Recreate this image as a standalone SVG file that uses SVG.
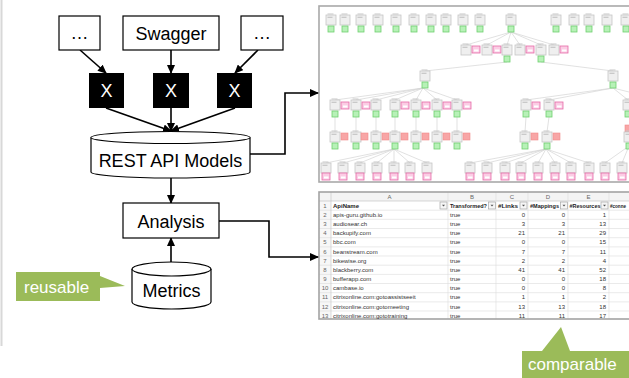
<svg xmlns="http://www.w3.org/2000/svg" width="629" height="378" viewBox="0 0 629 378">
<style>
.lbl{font-family:"Liberation Sans",Arial,sans-serif;font-size:18px;fill:#000;text-anchor:middle}
.wx{font-family:"Liberation Sans",Arial,sans-serif;font-size:18px;fill:#fff;text-anchor:middle}
.co{font-family:"Liberation Sans",Arial,sans-serif;font-size:17px;fill:#fff}
.box{fill:#fff;stroke:#000;stroke-width:1.2}
.xb{fill:#000}
.con{fill:none;stroke:#000;stroke-width:1.6}
.edge{stroke:#d4d4d4;stroke-width:0.7;fill:none}
.st{font-family:"Liberation Sans",Arial,sans-serif;font-size:6px;fill:#333}
.sh{font-family:"Liberation Sans",Arial,sans-serif;font-size:6px;fill:#222;font-weight:bold}
.sn{font-family:"Liberation Sans",Arial,sans-serif;font-size:6px;fill:#666;text-anchor:middle}
.sv{font-family:"Liberation Sans",Arial,sans-serif;font-size:6px;fill:#333;text-anchor:end}
.grid{stroke:#dcdcdc;stroke-width:0.6}
</style>
<defs>
<marker id="ah" markerUnits="userSpaceOnUse" markerWidth="9" markerHeight="8" refX="8" refY="4" orient="auto">
<path d="M0,0 L9,4 L0,8 Z" fill="#000"/>
</marker>
<g id="gb"><rect width="10" height="10" fill="#efefef" stroke="#c6c6c6" stroke-width="0.8"/><rect x="1.5" y="-1.5" width="6" height="1" fill="#c8c8c8"/><rect x="1.5" y="1.8" width="5" height="0.8" fill="#b0b0b0"/></g>
<g id="gr"><rect width="6" height="6" fill="#b7f1b7" stroke="#6fcf6f" stroke-width="0.8"/></g>
<g id="pk"><rect width="8" height="7" fill="#fbcde4" stroke="#e56aa7" stroke-width="0.8"/><rect x="2" y="3.5" width="4.5" height="2" fill="#fff"/></g>
<g id="sa"><rect width="7" height="7" fill="#f8a6a6" stroke="#f08a8a" stroke-width="0.6"/></g>
<g id="dd"><rect width="7" height="7" fill="#f6f6f6" stroke="#9c9c9c" stroke-width="0.6"/><path d="M2,2.8 L5,2.8 L3.5,4.6 Z" fill="#555"/></g>
</defs>

<rect width="629" height="378" fill="#fff"/>
<line x1="1.5" y1="0" x2="1.5" y2="346" stroke="#d8d8d8" stroke-width="2"/>

<!-- tree screenshot -->
<g id="tree-image">
<rect x="319" y="6" width="312" height="176" fill="#fff" stroke="#a9a9a9" stroke-width="1.6"/>
<g class="edge">
<path d="M511,32 L466,45 M511,32 L487,45 M511,32 L507,45 M511,32 L520,45 M511,32 L541,45 M511,32 L554,45"/>
<path d="M507,62 L425,71 M541,62 L613,71"/>
<path d="M423,88 L335,100 M423,88 L356,100 M423,88 L376,100 M423,88 L395,100 M423,88 L416,100 M423,88 L437,100 M423,88 L457,100"/>
<path d="M613,88 L526,100 M613,88 L549,100 M613,88 L628,100 M613,88 L629,92"/>
<path d="M335,117 V132 M356,117 V132 M376,117 V132 M395,117 V132 M416,117 V132 M437,117 V132 M457,117 V132 M526,117 L525,132 M549,117 L547,132"/>
<path d="M394,149 L326,163 M394,149 L343,163 M394,149 L360,163 M394,149 L377,163 M394,149 L394,163 M394,149 L410,163 M394,149 L427,163"/>
<path d="M546,149 L470,163 M546,149 L487,163 M546,149 L505,163 M546,149 L521,163 M546,149 L538,163 M546,149 L555,163 M546,149 L571,163 M546,149 L589,163"/>
<path d="M629,146 L605,163 M629,146 L622,163"/>
</g>
<!-- row 0 -->
<use href="#gb" x="326" y="15"/><use href="#gr" x="328" y="26"/>
<use href="#gb" x="340" y="15"/><use href="#gr" x="342" y="26"/>
<use href="#gb" x="356" y="15"/><use href="#gr" x="358" y="26"/>
<use href="#gb" x="373" y="15"/><use href="#gr" x="375" y="26"/>
<use href="#gb" x="391" y="15"/><use href="#gr" x="393" y="26"/>
<use href="#gb" x="409" y="15"/><use href="#gr" x="411" y="26"/>
<use href="#gb" x="426" y="15"/><use href="#gr" x="428" y="26"/>
<use href="#gb" x="441" y="15"/><use href="#gr" x="443" y="26"/>
<use href="#gb" x="458" y="15"/><use href="#gr" x="460" y="26"/>
<use href="#gb" x="475" y="15"/><use href="#gr" x="477" y="26"/>
<use href="#gb" x="506" y="15"/><use href="#gr" x="508" y="26"/>
<use href="#gb" x="551" y="15"/><use href="#gr" x="553" y="26"/>
<use href="#gb" x="569" y="15"/><use href="#gr" x="571" y="26"/>
<use href="#gb" x="584" y="15"/><use href="#gr" x="586" y="26"/>
<use href="#gb" x="602" y="15"/><use href="#gr" x="604" y="26"/>
<use href="#gb" x="621" y="15"/><use href="#gr" x="623" y="26"/>
<!-- row 1 -->
<use href="#gb" x="461" y="45"/><use href="#pk" x="472" y="46"/>
<use href="#gb" x="482" y="45"/><use href="#pk" x="493" y="46"/>
<use href="#gb" x="502" y="45"/><use href="#gr" x="504" y="56"/>
<use href="#gb" x="515" y="45"/><use href="#pk" x="526" y="46"/>
<use href="#gb" x="536" y="45"/><use href="#gr" x="538" y="56"/>
<use href="#gb" x="549" y="45"/><use href="#pk" x="560" y="46"/>
<!-- row 2 -->
<use href="#gb" x="420" y="71"/><use href="#gr" x="422" y="82"/>
<use href="#gb" x="608" y="71"/><use href="#gr" x="610" y="82"/>
<!-- row 3 -->
<use href="#gb" x="330" y="100"/><use href="#pk" x="341" y="102"/><use href="#gr" x="332" y="111"/>
<use href="#gb" x="351" y="100"/><use href="#pk" x="362" y="102"/><use href="#gr" x="353" y="111"/>
<use href="#gb" x="371" y="100"/><use href="#gr" x="373" y="111"/>
<use href="#gb" x="390" y="100"/><use href="#pk" x="401" y="102"/><use href="#gr" x="392" y="111"/>
<use href="#gb" x="411" y="100"/><use href="#pk" x="422" y="102"/><use href="#gr" x="413" y="111"/>
<use href="#gb" x="432" y="100"/><use href="#pk" x="443" y="102"/><use href="#gr" x="434" y="111"/>
<use href="#gb" x="452" y="100"/><use href="#pk" x="463" y="102"/><use href="#gr" x="454" y="111"/>
<use href="#gb" x="521" y="100"/><use href="#pk" x="532" y="102"/><use href="#gr" x="523" y="111"/>
<use href="#gb" x="544" y="100"/><use href="#pk" x="555" y="102"/><use href="#gr" x="546" y="111"/>
<use href="#gb" x="623" y="100"/><use href="#gr" x="625" y="111"/>
<!-- row 4 -->
<use href="#gb" x="330" y="132"/><use href="#sa" x="341" y="133"/><use href="#gr" x="332" y="143"/>
<use href="#gb" x="351" y="132"/><use href="#sa" x="361" y="133"/><use href="#gr" x="353" y="143"/>
<use href="#gb" x="371" y="132"/><use href="#sa" x="382" y="133"/><use href="#gr" x="373" y="143"/>
<use href="#gb" x="390" y="132"/><use href="#sa" x="401" y="133"/><use href="#gr" x="392" y="143"/>
<use href="#gb" x="411" y="132"/><use href="#sa" x="422" y="133"/><use href="#gr" x="413" y="143"/>
<use href="#gb" x="432" y="132"/><use href="#sa" x="443" y="133"/><use href="#gr" x="434" y="143"/>
<use href="#gb" x="452" y="132"/><use href="#sa" x="463" y="133"/><use href="#gr" x="454" y="143"/>
<use href="#gb" x="520" y="132"/><use href="#sa" x="531" y="133"/><use href="#gr" x="522" y="143"/>
<use href="#gb" x="542" y="132"/><use href="#sa" x="553" y="133"/><use href="#gr" x="544" y="143"/>
<use href="#sa" x="625" y="125"/><use href="#gb" x="624" y="132"/><use href="#gr" x="626" y="143"/>
<!-- row 5 -->
<use href="#gb" x="321" y="163"/><use href="#pk" x="322" y="173"/>
<use href="#gb" x="338" y="163"/><use href="#pk" x="339" y="173"/>
<use href="#gb" x="355" y="163"/><use href="#pk" x="356" y="173"/>
<use href="#gb" x="372" y="163"/><use href="#pk" x="373" y="173"/>
<use href="#gb" x="389" y="163"/><use href="#pk" x="390" y="173"/>
<use href="#gb" x="405" y="163"/><use href="#pk" x="406" y="173"/>
<use href="#gb" x="422" y="163"/><use href="#pk" x="423" y="173"/>
<use href="#gb" x="465" y="163"/><use href="#pk" x="466" y="173"/>
<use href="#gb" x="482" y="163"/><use href="#pk" x="483" y="173"/>
<use href="#gb" x="500" y="163"/><use href="#pk" x="501" y="173"/>
<use href="#gb" x="516" y="163"/><use href="#pk" x="517" y="173"/>
<use href="#gb" x="533" y="163"/><use href="#pk" x="534" y="173"/>
<use href="#gb" x="550" y="163"/><use href="#pk" x="551" y="173"/>
<use href="#gb" x="566" y="163"/><use href="#pk" x="567" y="173"/>
<use href="#gb" x="584" y="163"/><use href="#pk" x="585" y="173"/>
<use href="#gb" x="600" y="163"/><use href="#pk" x="601" y="173"/>
<use href="#gb" x="617" y="163"/><use href="#pk" x="618" y="173"/>
</g>

<!-- spreadsheet screenshot -->
<g id="spreadsheet">
<rect x="319" y="192" width="312" height="127" fill="#fff"/>
<rect x="319" y="192" width="312" height="9" fill="#f4f4f4"/>
<rect x="319" y="201" width="12" height="118" fill="#f7f7f7"/>
<g class="grid">
<line x1="319" y1="201" x2="629" y2="201" stroke="#bdbdbd"/>
<line x1="319" y1="210.2" x2="629" y2="210.2"/><line x1="319" y1="219.3" x2="629" y2="219.3"/>
<line x1="319" y1="228.5" x2="629" y2="228.5"/><line x1="319" y1="237.7" x2="629" y2="237.7"/>
<line x1="319" y1="246.9" x2="629" y2="246.9"/><line x1="319" y1="256" x2="629" y2="256"/>
<line x1="319" y1="265.2" x2="629" y2="265.2"/><line x1="319" y1="274.4" x2="629" y2="274.4"/>
<line x1="319" y1="283.5" x2="629" y2="283.5"/><line x1="319" y1="292.7" x2="629" y2="292.7"/>
<line x1="319" y1="301.9" x2="629" y2="301.9"/><line x1="319" y1="311" x2="629" y2="311"/>
<line x1="331" y1="192" x2="331" y2="319" stroke="#c4c4c4"/>
<line x1="448" y1="192" x2="448" y2="319"/><line x1="496" y1="192" x2="496" y2="319"/>
<line x1="528" y1="192" x2="528" y2="319"/><line x1="568" y1="192" x2="568" y2="319"/>
<line x1="609" y1="192" x2="609" y2="319"/>
</g>
<rect x="319" y="192" width="312" height="127" fill="none" stroke="#a3a3a3" stroke-width="1.6"/>
<text class="sn" x="389.5" y="199">A</text><text class="sn" x="472" y="199">B</text>
<text class="sn" x="512" y="199">C</text><text class="sn" x="548" y="199">D</text>
<text class="sn" x="588.5" y="199">E</text>
<text class="sh" x="333" y="207.8">ApiName</text>
<text class="sh" x="450" y="207.8" textLength="37" lengthAdjust="spacingAndGlyphs">Transformed?</text>
<text class="sh" x="498" y="207.8" textLength="20" lengthAdjust="spacingAndGlyphs">#Links</text>
<text class="sh" x="530" y="207.8" textLength="29" lengthAdjust="spacingAndGlyphs">#Mappings</text>
<text class="sh" x="569.5" y="207.8" textLength="31" lengthAdjust="spacingAndGlyphs">#Resources</text>
<text class="sh" x="610" y="207.8" textLength="16" lengthAdjust="spacingAndGlyphs">#conne</text>
<use href="#dd" x="440" y="202"/><use href="#dd" x="488.5" y="202"/><use href="#dd" x="520" y="202"/>
<use href="#dd" x="560.5" y="202"/><use href="#dd" x="601" y="202"/>
<g>
<text class="sn" x="325" y="207.8">1</text><text class="sn" x="325" y="216.9">2</text>
<text class="sn" x="325" y="226">3</text><text class="sn" x="325" y="235.2">4</text>
<text class="sn" x="325" y="244.4">5</text><text class="sn" x="325" y="253.6">6</text>
<text class="sn" x="325" y="262.7">7</text><text class="sn" x="325" y="271.9">8</text>
<text class="sn" x="325" y="281.1">9</text><text class="sn" x="325" y="290.2">10</text>
<text class="sn" x="325" y="299.4">11</text><text class="sn" x="325" y="308.6">12</text>
<text class="sn" x="325" y="317.7">13</text>
</g>
<g>
<text class="st" x="333" y="216.9">apis-guru.github.io</text>
<text class="st" x="333" y="226">audiosear.ch</text>
<text class="st" x="333" y="235.2">backupify.com</text>
<text class="st" x="333" y="244.4">bbc.com</text>
<text class="st" x="333" y="253.6">beanstream.com</text>
<text class="st" x="333" y="262.7">bikewise.org</text>
<text class="st" x="333" y="271.9">blackberry.com</text>
<text class="st" x="333" y="281.1">bufferapp.com</text>
<text class="st" x="333" y="290.2">cambase.io</text>
<text class="st" x="333" y="299.4">citrixonline.com:gotoassistseeit</text>
<text class="st" x="333" y="308.6">citrixonline.com:gotomeeting</text>
<text class="st" x="333" y="317.7">citrixonline.com:gototraining</text>
</g>
<g>
<text class="st" x="450" y="216.9">true</text><text class="st" x="450" y="226">true</text>
<text class="st" x="450" y="235.2">true</text><text class="st" x="450" y="244.4">true</text>
<text class="st" x="450" y="253.6">true</text><text class="st" x="450" y="262.7">true</text>
<text class="st" x="450" y="271.9">true</text><text class="st" x="450" y="281.1">true</text>
<text class="st" x="450" y="290.2">true</text><text class="st" x="450" y="299.4">true</text>
<text class="st" x="450" y="308.6">true</text><text class="st" x="450" y="317.7">true</text>
</g>
<g>
<text class="sv" x="525" y="216.9">0</text><text class="sv" x="565" y="216.9">0</text><text class="sv" x="606" y="216.9">1</text>
<text class="sv" x="525" y="226">3</text><text class="sv" x="565" y="226">3</text><text class="sv" x="606" y="226">13</text>
<text class="sv" x="525" y="235.2">21</text><text class="sv" x="565" y="235.2">21</text><text class="sv" x="606" y="235.2">29</text>
<text class="sv" x="525" y="244.4">0</text><text class="sv" x="565" y="244.4">0</text><text class="sv" x="606" y="244.4">15</text>
<text class="sv" x="525" y="253.6">7</text><text class="sv" x="565" y="253.6">7</text><text class="sv" x="606" y="253.6">11</text>
<text class="sv" x="525" y="262.7">2</text><text class="sv" x="565" y="262.7">2</text><text class="sv" x="606" y="262.7">4</text>
<text class="sv" x="525" y="271.9">41</text><text class="sv" x="565" y="271.9">41</text><text class="sv" x="606" y="271.9">52</text>
<text class="sv" x="525" y="281.1">0</text><text class="sv" x="565" y="281.1">0</text><text class="sv" x="606" y="281.1">18</text>
<text class="sv" x="525" y="290.2">0</text><text class="sv" x="565" y="290.2">0</text><text class="sv" x="606" y="290.2">8</text>
<text class="sv" x="525" y="299.4">1</text><text class="sv" x="565" y="299.4">1</text><text class="sv" x="606" y="299.4">2</text>
<text class="sv" x="525" y="308.6">13</text><text class="sv" x="565" y="308.6">13</text><text class="sv" x="606" y="308.6">18</text>
<text class="sv" x="525" y="317.7">11</text><text class="sv" x="565" y="317.7">11</text><text class="sv" x="606" y="317.7">17</text>
</g>
</g>

<!-- connectors -->
<g id="connectors">
<line class="con" x1="80" y1="50" x2="106" y2="73" marker-end="url(#ah)"/>
<line class="con" x1="171" y1="50" x2="171" y2="73" marker-end="url(#ah)"/>
<line class="con" x1="258" y1="50" x2="235" y2="73" marker-end="url(#ah)"/>
<line class="con" x1="106" y1="108" x2="171" y2="131" marker-end="url(#ah)"/>
<line class="con" x1="171" y1="108" x2="171" y2="131" marker-end="url(#ah)"/>
<line class="con" x1="235" y1="108" x2="171" y2="131" marker-end="url(#ah)"/>
<line class="con" x1="171" y1="178" x2="171" y2="203" marker-end="url(#ah)"/>
<line class="con" x1="171" y1="262" x2="171" y2="238" marker-end="url(#ah)"/>
<polyline class="con" points="250,154 285,154 285,93 318,93" marker-end="url(#ah)"/>
<polyline class="con" points="219,221 269,221 269,257 318,257" marker-end="url(#ah)"/>
</g>

<!-- nodes -->
<g id="src-left"><rect class="box" x="59" y="16" width="41" height="34"/><text class="lbl" x="79.5" y="39">…</text></g>
<g id="src-swagger"><rect class="box" x="123" y="16" width="96" height="34"/><text class="lbl" x="171" y="39.5">Swagger</text></g>
<g id="src-right"><rect class="box" x="241" y="16" width="42" height="34"/><text class="lbl" x="262" y="39">…</text></g>
<g id="x-left"><rect class="xb" x="89" y="73" width="35" height="35"/><text class="wx" x="106.5" y="97">X</text></g>
<g id="x-mid"><rect class="xb" x="153" y="73" width="36" height="35"/><text class="wx" x="171" y="97">X</text></g>
<g id="x-right"><rect class="xb" x="217" y="73" width="35" height="35"/><text class="wx" x="234.5" y="97">X</text></g>
<g id="rest-api-models">
<path class="box" d="M91,137.5 V172 A79.5,6 0 0 0 250,172 V137.5 A79.5,6 0 0 0 91,137.5 Z"/>
<path class="box" fill="none" d="M91,137.5 A79.5,6 0 0 0 250,137.5"/>
<text class="lbl" x="170.5" y="167">REST API Models</text>
</g>
<g id="analysis"><rect class="box" x="123" y="203" width="96" height="35"/><text class="lbl" x="171" y="227.5">Analysis</text></g>
<g id="metrics">
<path class="box" d="M132,269 V302 A39.5,7 0 0 0 211,302 V269 A39.5,7 0 0 0 132,269 Z"/>
<path class="box" fill="none" d="M132,269 A39.5,7 0 0 0 211,269"/>
<text class="lbl" x="171.5" y="297">Metrics</text>
</g>
<g id="callout-reusable">
<path d="M16,272 H100 V276 L125,286 L100,288 V301 H16 Z" fill="#9bbb59"/>
<text class="co" x="24" y="292.5">reusable</text>
</g>
<g id="callout-comparable">
<path d="M522,351 H542 L561,327 L570,351 H629 V378 H522 Z" fill="#9bbb59"/>
<text class="co" x="528" y="370">comparable</text>
</g>
</svg>
